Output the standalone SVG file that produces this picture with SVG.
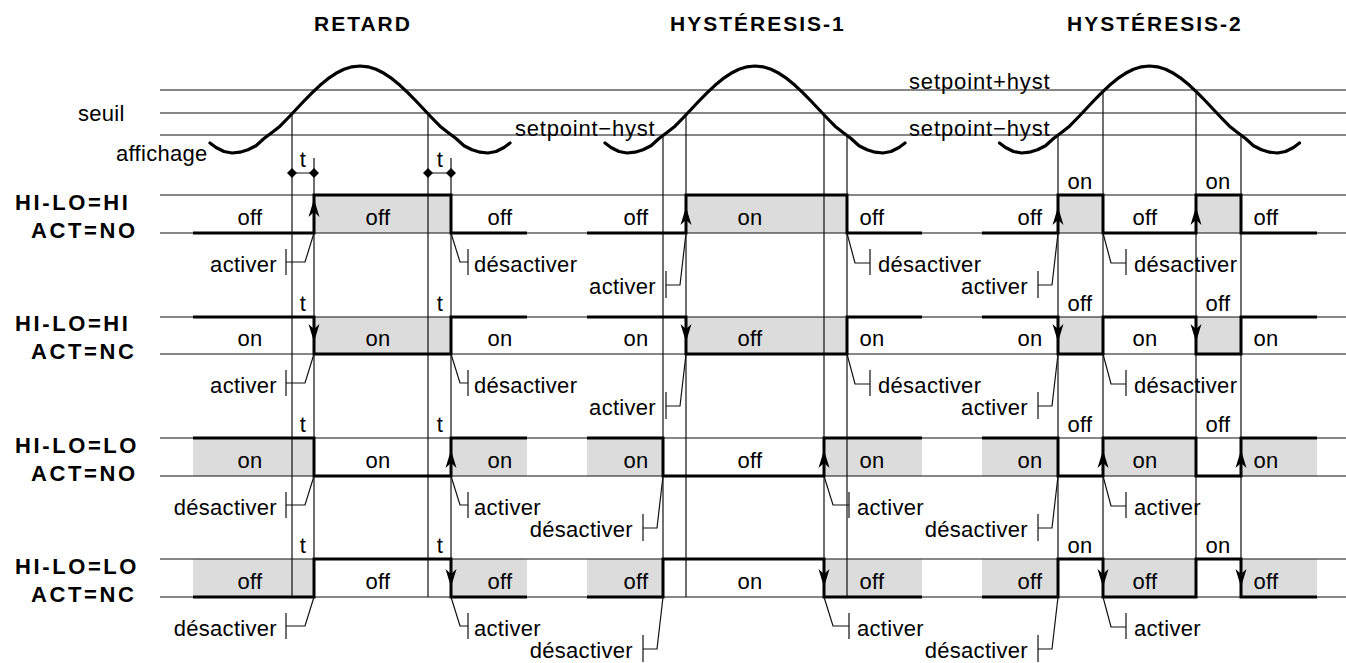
<svg xmlns="http://www.w3.org/2000/svg" width="1346" height="663" viewBox="0 0 1346 663">
<style>
.thin{stroke:#111;stroke-width:1.2;fill:none}
.sig{stroke:#000;stroke-width:3;fill:none;stroke-linejoin:miter}
.wave{stroke:#000;stroke-width:3.2;fill:none;stroke-linejoin:round;stroke-linecap:round}
.gray{fill:#dcdcdc}
.co{stroke:#111;stroke-width:1.2;fill:none}
text{font-family:"Liberation Sans",Arial,sans-serif;fill:#000}
.l{font-size:22px;letter-spacing:0.3px}
.c{text-anchor:middle}
.e{text-anchor:end}
.hdr{font-size:21px;font-weight:bold;letter-spacing:2px}
.rl{font-size:22px;font-weight:bold;letter-spacing:2.6px}
</style>
<defs>
<polyline id="wave" class="wave" points="-150,143 -144,147.5 -136,151.5 -128,153 -120,152.2 -112,149.7 -104,145.7 -96,138.5 -88,132.5 -80,126.2 -72,118 -64,109.5 -56,101 -48,92.9 -40,85.3 -32,78.7 -24,73.3 -16,69.3 -8,66.8 0,66 8,66.8 16,69.3 24,73.3 32,78.7 40,85.3 48,92.9 56,101 64,109.5 72,118 80,126.2 88,132.5 96,138.5 104,145.7 112,149.7 120,152.2 128,153 136,151.5 144,147.5 150,143"/>
<path id="au" d="M0,0 L-5.5,18 L0,13 L5.5,18 Z" fill="#000"/>
<path id="ad" d="M0,0 L-5.5,-18 L0,-13 L5.5,-18 Z" fill="#000"/>
<path id="dia" d="M0,-5 L5,0 L0,5 L-5,0 Z" fill="#000"/>
</defs>

<g id="titles">
<text class="hdr" x="314" y="31">RETARD</text>
<text class="hdr" x="670" y="31">HYSTÉRESIS-1</text>
<text class="hdr" x="1067" y="31">HYSTÉRESIS-2</text>
</g>

<g id="gray">
<rect class="gray" x="314" y="195" width="137" height="38"/>
<rect class="gray" x="686" y="195" width="161" height="38"/>
<rect class="gray" x="1058" y="195" width="45" height="38"/>
<rect class="gray" x="1196" y="195" width="45" height="38"/>
<rect class="gray" x="314" y="317" width="137" height="37"/>
<rect class="gray" x="686" y="317" width="161" height="37"/>
<rect class="gray" x="1058" y="317" width="45" height="37"/>
<rect class="gray" x="1196" y="317" width="45" height="37"/>
<rect class="gray" x="193" y="438" width="121" height="38"/>
<rect class="gray" x="451" y="438" width="76" height="38"/>
<rect class="gray" x="587" y="438" width="76" height="38"/>
<rect class="gray" x="824" y="438" width="98" height="38"/>
<rect class="gray" x="982" y="438" width="76" height="38"/>
<rect class="gray" x="1103" y="438" width="93" height="38"/>
<rect class="gray" x="1241" y="438" width="76" height="38"/>
<rect class="gray" x="193" y="559" width="121" height="38"/>
<rect class="gray" x="451" y="559" width="76" height="38"/>
<rect class="gray" x="587" y="559" width="76" height="38"/>
<rect class="gray" x="824" y="559" width="98" height="38"/>
<rect class="gray" x="982" y="559" width="76" height="38"/>
<rect class="gray" x="1103" y="559" width="93" height="38"/>
<rect class="gray" x="1241" y="559" width="76" height="38"/>
</g>

<g id="guides">
<path class="thin" d="M160,90 H1346 M160,113 H1346 M160,135 H1346 M160,195 H1346 M160,233 H1346 M160,317 H1346 M160,354 H1346 M160,438 H1346 M160,476 H1346 M160,559 H1346 M160,597 H1346"/>
</g>

<g id="waves">
<use href="#wave" x="360"/>
<use href="#wave" x="755"/>
<use href="#wave" x="1149.5"/>
</g>

<g id="verticals">
<path class="thin" d="M292,113 V597 M314,158 V597 M428,113 V597 M451,158 V597 M663,135 V597 M686,113 V597 M824,113 V597 M847,135 V597 M1058,135 V597 M1103,90 V597 M1196,90 V597 M1241,135 V597"/>
</g>

<g id="tmarker">
<path class="thin" d="M292,173 H314 M428,173 H451"/>
<use href="#dia" x="292" y="173"/>
<use href="#dia" x="314" y="173"/>
<use href="#dia" x="428" y="173"/>
<use href="#dia" x="451" y="173"/>
<text class="l c" x="303" y="167">t</text>
<text class="l c" x="440" y="167">t</text>
</g>

<g id="axis-labels">
<text class="l" x="78" y="121">seuil</text>
<text class="l" x="116" y="161">affichage</text>
<text class="l" x="515" y="136" textLength="140" lengthAdjust="spacing">setpoint−hyst</text>
<text class="l" x="909" y="89" textLength="141" lengthAdjust="spacing">setpoint+hyst</text>
<text class="l" x="909" y="136" textLength="141" lengthAdjust="spacing">setpoint−hyst</text>
</g>

<g id="row1">
<text class="rl" x="15" y="210">HI-LO=HI</text>
<text class="rl" x="31" y="238">ACT=NO</text>
<path class="sig" d="M193,233 H314 V195 H451 V233 H527"/>
<path class="sig" d="M587,233 H686 V195 H847 V233 H922"/>
<path class="sig" d="M982,233 H1058 V195 H1103 V233 H1196 V195 H1241 V233 H1317"/>
<use href="#au" x="314" y="199"/>
<use href="#au" x="686" y="207"/>
<use href="#au" x="1058" y="207"/>
<use href="#au" x="1196" y="207"/>
<text class="l c" x="250" y="225">off</text>
<text class="l c" x="378" y="225">off</text>
<text class="l c" x="500" y="225">off</text>
<text class="l c" x="636" y="225">off</text>
<text class="l c" x="750" y="225">on</text>
<text class="l c" x="872" y="225">off</text>
<text class="l c" x="1030" y="225">off</text>
<text class="l c" x="1145" y="225">off</text>
<text class="l c" x="1266" y="225">off</text>
<text class="l c" x="1080" y="189">on</text>
<text class="l c" x="1218" y="189">on</text>
</g>

<g id="row2">
<text class="rl" x="15" y="331">HI-LO=HI</text>
<text class="rl" x="31" y="359">ACT=NC</text>
<path class="sig" d="M193,317 H314 V354 H451 V317 H527"/>
<path class="sig" d="M587,317 H686 V354 H847 V317 H922"/>
<path class="sig" d="M982,317 H1058 V354 H1103 V317 H1196 V354 H1241 V317 H1317"/>
<use href="#ad" x="314" y="342"/>
<use href="#ad" x="686" y="342"/>
<use href="#ad" x="1058" y="342"/>
<use href="#ad" x="1196" y="342"/>
<text class="l c" x="303" y="311">t</text>
<text class="l c" x="440" y="311">t</text>
<text class="l c" x="250" y="346">on</text>
<text class="l c" x="378" y="346">on</text>
<text class="l c" x="500" y="346">on</text>
<text class="l c" x="636" y="346">on</text>
<text class="l c" x="750" y="346">off</text>
<text class="l c" x="872" y="346">on</text>
<text class="l c" x="1030" y="346">on</text>
<text class="l c" x="1145" y="346">on</text>
<text class="l c" x="1266" y="346">on</text>
<text class="l c" x="1080" y="311">off</text>
<text class="l c" x="1218" y="311">off</text>
</g>

<g id="row3">
<text class="rl" x="15" y="453">HI-LO=LO</text>
<text class="rl" x="31" y="481">ACT=NO</text>
<path class="sig" d="M193,438 H314 V476 H451 V438 H527"/>
<path class="sig" d="M587,438 H663 V476 H824 V438 H922"/>
<path class="sig" d="M982,438 H1058 V476 H1103 V438 H1196 V476 H1241 V438 H1317"/>
<use href="#au" x="451" y="450"/>
<use href="#au" x="824" y="450"/>
<use href="#au" x="1103" y="450"/>
<use href="#au" x="1241" y="450"/>
<text class="l c" x="303" y="432">t</text>
<text class="l c" x="440" y="432">t</text>
<text class="l c" x="250" y="468">on</text>
<text class="l c" x="378" y="468">on</text>
<text class="l c" x="500" y="468">on</text>
<text class="l c" x="636" y="468">on</text>
<text class="l c" x="750" y="468">off</text>
<text class="l c" x="872" y="468">on</text>
<text class="l c" x="1030" y="468">on</text>
<text class="l c" x="1145" y="468">on</text>
<text class="l c" x="1266" y="468">on</text>
<text class="l c" x="1080" y="432">off</text>
<text class="l c" x="1218" y="432">off</text>
</g>

<g id="row4">
<text class="rl" x="15" y="574">HI-LO=LO</text>
<text class="rl" x="31" y="602">ACT=NC</text>
<path class="sig" d="M193,597 H314 V559 H451 V597 H527"/>
<path class="sig" d="M587,597 H663 V559 H824 V597 H922"/>
<path class="sig" d="M982,597 H1058 V559 H1103 V597 H1196 V559 H1241 V597 H1317"/>
<use href="#ad" x="451" y="587"/>
<use href="#ad" x="824" y="587"/>
<use href="#ad" x="1103" y="587"/>
<use href="#ad" x="1241" y="587"/>
<text class="l c" x="303" y="553">t</text>
<text class="l c" x="440" y="553">t</text>
<text class="l c" x="250" y="589">off</text>
<text class="l c" x="378" y="589">off</text>
<text class="l c" x="500" y="589">off</text>
<text class="l c" x="636" y="589">off</text>
<text class="l c" x="750" y="589">on</text>
<text class="l c" x="872" y="589">off</text>
<text class="l c" x="1030" y="589">off</text>
<text class="l c" x="1145" y="589">off</text>
<text class="l c" x="1266" y="589">off</text>
<text class="l c" x="1080" y="553">on</text>
<text class="l c" x="1218" y="553">on</text>
</g>

<g id="connectors">
<path class="co" d="M314,233 L305,262 H286 M286,249 V275 M451,233 L460,262 H468 M468,249 V275 M686,233 L680,285 H666 M666,271 V298 M847,233 L855,263 H870 M870,249 V275 M1058,233 L1052,285 H1038 M1038,271 V298 M1103,233 L1111,263 H1126 M1126,249 V275"/>
<path class="co" d="M314,354 L305,383 H286 M286,370 V396 M451,354 L460,383 H468 M468,370 V396 M686,354 L680,406 H666 M666,392 V419 M847,354 L855,384 H870 M870,370 V396 M1058,354 L1052,406 H1038 M1038,392 V419 M1103,354 L1111,384 H1126 M1126,370 V396"/>
<path class="co" d="M314,476 L305,505 H286 M286,492 V518 M451,476 L460,505 H468 M468,492 V518 M663,476 L657,528 H643 M643,514 V541 M824,476 L833,505 H849 M849,492 V518 M1058,476 L1052,528 H1038 M1038,514 V541 M1103,476 L1111,506 H1126 M1126,492 V518"/>
<path class="co" d="M314,597 L305,626 H286 M286,613 V639 M451,597 L460,626 H468 M468,613 V639 M663,597 L657,649 H643 M643,635 V662 M824,597 L833,626 H849 M849,613 V639 M1058,597 L1052,649 H1038 M1038,635 V662 M1103,597 L1111,627 H1126 M1126,613 V639"/>
</g>

<g id="connector-labels">
<text class="l e" x="277" y="272">activer</text>
<text class="l" x="474" y="272">désactiver</text>
<text class="l e" x="656" y="294">activer</text>
<text class="l" x="878" y="272">désactiver</text>
<text class="l e" x="1028" y="294">activer</text>
<text class="l" x="1134" y="272">désactiver</text>

<text class="l e" x="277" y="393">activer</text>
<text class="l" x="474" y="393">désactiver</text>
<text class="l e" x="656" y="415">activer</text>
<text class="l" x="878" y="393">désactiver</text>
<text class="l e" x="1028" y="415">activer</text>
<text class="l" x="1134" y="393">désactiver</text>

<text class="l e" x="277" y="515">désactiver</text>
<text class="l" x="474" y="515">activer</text>
<text class="l e" x="633" y="537">désactiver</text>
<text class="l" x="857" y="515">activer</text>
<text class="l e" x="1028" y="537">désactiver</text>
<text class="l" x="1134" y="515">activer</text>

<text class="l e" x="277" y="636">désactiver</text>
<text class="l" x="474" y="636">activer</text>
<text class="l e" x="633" y="658">désactiver</text>
<text class="l" x="857" y="636">activer</text>
<text class="l e" x="1028" y="658">désactiver</text>
<text class="l" x="1134" y="636">activer</text>
</g>
</svg>
